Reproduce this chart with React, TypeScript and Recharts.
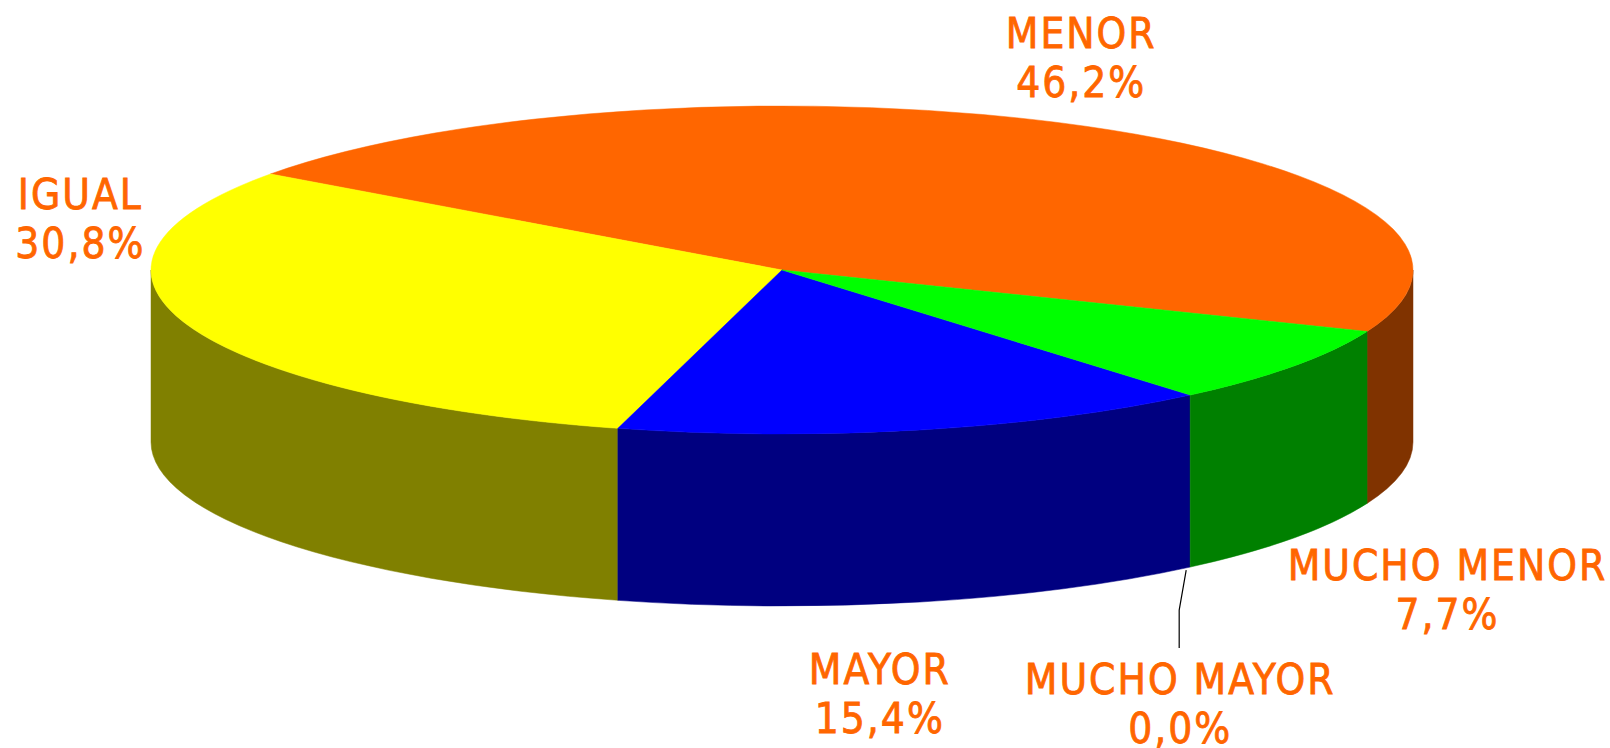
import { PieChart, Pie, Cell } from "recharts";

document.body.style.margin = "0";

const CATEGORIES = ["MENOR", "IGUAL", "MAYOR", "MUCHO MAYOR", "MUCHO MENOR"];
const PERCENTS = [46.2, 30.8, 15.4, 0.0, 7.7];

const TOP_COLORS = ["#FF6600", "#FFFF00", "#0000FF", "#00FFFF", "#00FF00"];
const SIDE_COLORS = ["#803300", "#808000", "#000080", "#008080", "#008000"];

// label nudges relative to the slice's point on the top rim: [dx, dy of first baseline]
const LABEL_NUDGE: [number, number][] = [
  [-6, -78],
  [-107, -116],
  [-40, 254],
  [-10, 299],
  [154, 214],
];

const W = 1610;
const H = 748;
const CX = 782;
const CY = 270;
const R = 631;
const K = 164 / 631; // vertical squash of the disc
const DEPTH = 172;
const LINE_GAP = 49;
const LABEL_COLOR = "#FF6600";
const FONT = "'DejaVu Sans Condensed', 'DejaVu Sans', sans-serif";

const data = CATEGORIES.map((name, i) => ({ name, value: PERCENTS[i] }));

function pt(cx: number, cy: number, r: number, a: number): [number, number] {
  const rad = (a * Math.PI) / 180;
  return [cx + r * Math.cos(rad), cy - r * K * Math.sin(rad)];
}

function idxOf(props: any) {
  const n = props.name ?? props.payload?.name;
  return CATEGORIES.indexOf(n);
}

function Slice3D(props: any) {
  const { cx, cy, outerRadius, startAngle, endAngle, fill } = props;
  if (Math.abs(endAngle - startAngle) < 1e-6) return <g />;
  const a1 = Math.min(startAngle, endAngle);
  const a2 = Math.max(startAngle, endAngle);
  const i = idxOf(props);
  const side = SIDE_COLORS[i] ?? "#444";
  const ry = outerRadius * K;

  // front wall pieces (screen-lower half of the rim)
  const walls: string[] = [];
  for (let n = -1; n <= 1; n++) {
    const lo = Math.max(a1, 180 + 360 * n - 360);
    const hi = Math.min(a2, 360 + 360 * n - 360);
    if (hi - lo > 1e-6) {
      const [x1, y1] = pt(cx, cy, outerRadius, lo);
      const [x2, y2] = pt(cx, cy, outerRadius, hi);
      walls.push(
        `M${x1},${y1} A${outerRadius},${ry} 0 0 0 ${x2},${y2} L${x2},${y2 + DEPTH} A${outerRadius},${ry} 0 0 1 ${x1},${y1 + DEPTH} Z`
      );
    }
  }

  const [px1, py1] = pt(cx, cy, outerRadius, a1);
  const [px2, py2] = pt(cx, cy, outerRadius, a2);
  const large = a2 - a1 > 180 ? 1 : 0;
  const top = `M${cx},${cy} L${px1},${py1} A${outerRadius},${ry} 0 ${large} 0 ${px2},${py2} Z`;

  return (
    <g>
      {walls.map((d, j) => (
        <path key={j} d={d} fill={side} stroke={side} strokeWidth={0.5} />
      ))}
      <path d={top} fill={fill} stroke={fill} strokeWidth={0.5} />
    </g>
  );
}

function renderLabel(props: any) {
  const { cx, cy, outerRadius, midAngle, value } = props;
  const i = idxOf(props);
  const [ax, ay] = pt(cx, cy, outerRadius, midAngle);
  const [dx, dy] = LABEL_NUDGE[i] ?? [0, 0];
  const x = ax + dx;
  const y = ay + dy;
  const pct = `${Number(value).toFixed(1).replace(".", ",")}%`;
  let leader = null;
  if (value === 0) {
    leader = (
      <path
        d={`M${ax - 4},${ay + DEPTH + 3} L${x - 1},${y - 84} L${x - 1},${y - 46}`}
        fill="none"
        stroke="#000"
        strokeWidth={1.2}
      />
    );
  }
  return (
    <g key={`lbl-${i}`}>
      {leader}
      <text
        x={x}
        y={y}
        textAnchor="middle"
        fill={LABEL_COLOR}
        stroke={LABEL_COLOR}
        strokeWidth={0.8}
        fontFamily={FONT}
        fontSize={42}
        letterSpacing={2}
      >
        <tspan x={x} y={y}>{CATEGORIES[i]}</tspan>
        <tspan x={x} y={y + LINE_GAP}>{pct}</tspan>
      </text>
    </g>
  );
}

export default function App() {
  return (
    <div style={{ width: W, height: H, background: "#fff" }}>
      <PieChart width={W} height={H} margin={{ top: 0, right: 0, bottom: 0, left: 0 }}>
        <Pie
          data={data}
          dataKey="value"
          nameKey="name"
          cx={CX}
          cy={CY}
          innerRadius={0}
          outerRadius={R}
          startAngle={-22}
          endAngle={338}
          stroke="none"
          isAnimationActive={false}
          shape={Slice3D}
          inactiveShape={Slice3D}
          activeShape={Slice3D}
          label={renderLabel}
          labelLine={false}
        >
          {data.map((_, i) => (
            <Cell key={i} fill={TOP_COLORS[i]} />
          ))}
        </Pie>
      </PieChart>
    </div>
  );
}
